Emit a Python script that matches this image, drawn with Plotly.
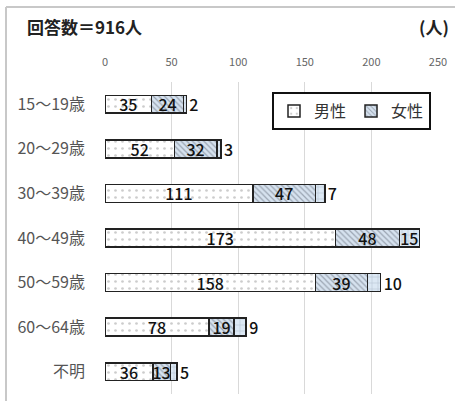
import plotly.graph_objects as go

categories = ["15～19歳", "20～29歳", "30～39歳", "40～49歳", "50～59歳", "60～64歳", "不明"]
male = [35, 52, 111, 173, 158, 78, 36]
female = [24, 32, 47, 48, 39, 19, 13]
other = [2, 3, 7, 15, 10, 9, 5]
x_ticks = [0, 50, 100, 150, 200, 250]

FONT = "Noto Sans CJK JP"
W, H = 455, 401
ML, MR, MT, MB = 105, 17, 82, 7
PW, PH = W - ML - MR, H - MT - MB

def px_to_paper_x(px):
    return (px - ML) / PW

def px_to_paper_y(py):
    return (H - MB - py) / PH

outline = dict(color="#222222", width=1.5)
label_font = dict(family=FONT, size=16, color="#111111", weight=500)

fig = go.Figure()
fig.add_trace(go.Bar(
    y=categories, x=male, orientation="h", name="男性",
    text=male, textposition="inside", insidetextanchor="middle",
    textangle=0, constraintext="none", textfont=label_font,
    marker=dict(color="white", line=outline,
                pattern=dict(shape=".", bgcolor="white", fgcolor="#9a9a9a",
                             size=7, solidity=0.12)),
))
fig.add_trace(go.Bar(
    y=categories, x=female, orientation="h", name="女性",
    text=female, textposition="inside", insidetextanchor="middle",
    textangle=0, constraintext="none", textfont=label_font,
    marker=dict(color="#d6e2ef", line=outline,
                pattern=dict(shape="\\", bgcolor="#d6e2ef", fgcolor="#5f6875",
                             size=4, solidity=0.3)),
))
fig.add_trace(go.Bar(
    y=categories, x=other, orientation="h", name="その他", showlegend=False,
    text=other,
    textposition=["inside" if v >= 15 else "outside" for v in other],
    insidetextanchor="middle", textangle=0, constraintext="none",
    textfont=label_font, outsidetextfont=label_font, cliponaxis=False,
    marker=dict(color="#dce8f4", line=outline,
                pattern=dict(shape="+", bgcolor="#dce8f4", fgcolor="#7f8fa3",
                             size=6, solidity=0.15)),
))

fig.update_layout(
    width=W, height=H,
    margin=dict(l=ML, r=MR, t=MT, b=MB),
    barmode="stack", bargap=0.6,
    paper_bgcolor="white", plot_bgcolor="white",
    font=dict(family=FONT, color="#555555"),
    xaxis=dict(side="top", range=[0, 250], tickvals=x_ticks,
               showgrid=True, gridcolor="#d9d9d9", gridwidth=1,
               zeroline=False, showline=False, ticks="",
               ticklabelstandoff=13,
               tickfont=dict(family=FONT, size=11, color="#666666")),
    yaxis=dict(autorange="reversed", showgrid=False, zeroline=False,
               showline=False, ticks="", ticklabelstandoff=19,
               tickfont=dict(family=FONT, size=16, color="#555555")),
    legend=dict(orientation="h", x=px_to_paper_x(272), y=px_to_paper_y(92),
                xanchor="left", yanchor="top",
                bgcolor="white", bordercolor="#111111", borderwidth=2,
                font=dict(family=FONT, size=16, color="#333333"),
                itemwidth=30, traceorder="normal"),
    annotations=[
        dict(text="<b>回答数＝916人</b>", xref="paper", yref="paper",
             x=px_to_paper_x(25), y=px_to_paper_y(27), xanchor="left",
             yanchor="middle", showarrow=False,
             font=dict(family=FONT, size=17, color="#222222")),
        dict(text="<b>(人)</b>", xref="paper", yref="paper",
             x=px_to_paper_x(451), y=px_to_paper_y(27), xanchor="right",
             yanchor="middle", showarrow=False,
             font=dict(family=FONT, size=17, color="#222222")),
    ],
    shapes=[
        dict(type="line", xref="paper", yref="paper",
             x0=px_to_paper_x(6), x1=px_to_paper_x(460),
             y0=px_to_paper_y(7), y1=px_to_paper_y(7),
             line=dict(color="#c8c8c8", width=2)),
        dict(type="line", xref="paper", yref="paper",
             x0=px_to_paper_x(6), x1=px_to_paper_x(6),
             y0=px_to_paper_y(7), y1=px_to_paper_y(405),
             line=dict(color="#c8c8c8", width=2)),
    ],
)

fig.write_html("out.html")
